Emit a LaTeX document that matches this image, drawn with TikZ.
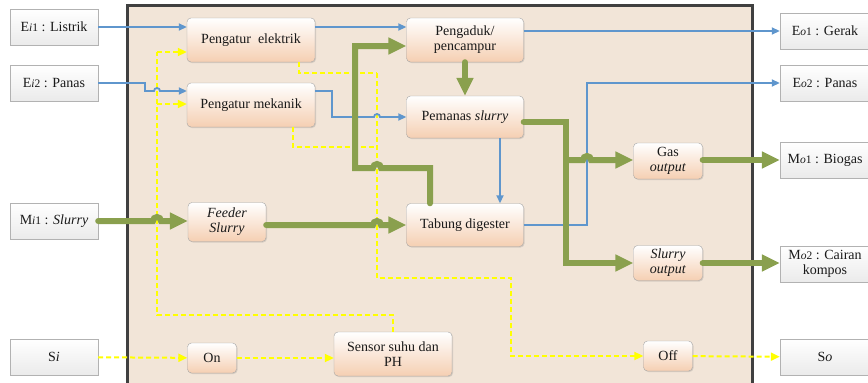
\documentclass[tikz,border=0pt]{standalone}
\usepackage{fontspec}
\setmainfont{Liberation Serif}
\usepackage{tikz}
\usetikzlibrary{arrows.meta,shadows}
\definecolor{flowblue}{RGB}{95,150,205}
\definecolor{flowgreen}{RGB}{138,160,78}
\definecolor{sysfill}{RGB}{242,229,216}
\definecolor{peach}{RGB}{245,207,178}
\definecolor{signalyellow}{RGB}{255,255,0}
\newcommand{\idx}[1]{{\fontsize{11.5}{13}\selectfont #1}}
\tikzset{
  proc/.style={draw=black!35, rounded corners=4pt, top color=white, bottom color=peach,
    drop shadow={opacity=0.25, shadow xshift=1pt, shadow yshift=-1pt},
    align=center, inner sep=1pt, text=black!90},
  io/.style={draw=black!30, top color=white, bottom color=black!8,
    drop shadow={opacity=0.2, shadow xshift=1pt, shadow yshift=-1pt},
    minimum width=88pt, minimum height=36pt, align=center, text=black!90},
  bluearrow/.style={draw=flowblue, line width=1.8pt, -{Triangle[length=8pt,width=7pt]}},
  greenarrow/.style={draw=flowgreen, line width=6pt, line cap=round, -{Triangle[length=18pt,width=16pt]}},
  signal/.style={draw=signalyellow, line width=2pt, dash pattern=on 5pt off 3pt, -{Triangle[length=9pt,width=8pt]}},
  signalline/.style={draw=signalyellow, line width=2pt, dash pattern=on 5pt off 3pt}
}

\begin{document}
\begin{tikzpicture}[x=1pt, y=-1pt, font=\rmfamily\fontsize{14}{15}\selectfont]
 \useasboundingbox (0,0) rectangle (868,383);
 \draw[line width=3pt, draw=black!75, fill=sysfill] (127,5) rectangle (752,400);

 \node[io] (ei1) at (54,27)  {E\idx{\textit{i}1} : Listrik};
 \node[io] (ei2) at (54,83)  {E\idx{\textit{i}2} : Panas};
 \node[io] (mi1) at (54,221) {M\idx{\textit{i}1} : \textit{Slurry}};
 \node[io] (si)  at (54,357) {S\textit{i}};

 \node[io, minimum width=90pt] (eo1) at (825,31)  {E\idx{\textit{o}1} : Gerak};
 \node[io, minimum width=90pt] (eo2) at (825,83)  {E\idx{\textit{o}2} : Panas};
 \node[io, minimum width=90pt] (mo1) at (825,160) {M\idx{\textit{o}1} : Biogas};
 \node[io, minimum width=90pt] (mo2) at (825,264) {M\idx{\textit{o}2} : Cairan\\kompos};
 \node[io, minimum width=90pt] (so)  at (825,357) {S\textit{o}};

 \node[proc, minimum width=128pt, minimum height=44pt] (pel)    at (251,40)  {Pengatur~ elektrik};
 \node[proc, minimum width=128pt, minimum height=44pt] (pmek)   at (251,105) {Pengatur mekanik};
 \node[proc, minimum width=117pt, minimum height=44pt] (aduk)   at (465,40)  {Pengaduk/\\pencampur};
 \node[proc, minimum width=117pt, minimum height=42pt] (panas)  at (465,117) {Pemanas \textit{slurry}};
 \node[proc, minimum width=117pt, minimum height=43pt] (tabung) at (465,225) {Tabung digester};
 \node[proc, minimum width=78pt,  minimum height=39pt] (feeder) at (227,222) {\textit{Feeder}\\\textit{Slurry}};
 \node[proc, minimum width=69pt,  minimum height=36pt] (gas)    at (668,161) {Gas\\\textit{output}};
 \node[proc, minimum width=69pt,  minimum height=35pt] (slout)  at (668,263) {\textit{Slurry}\\\textit{output}};
 \node[proc, minimum width=49pt,  minimum height=30pt] (on)     at (212,358) {On};
 \node[proc, minimum width=118pt, minimum height=44pt] (sensor) at (393,354) {Sensor suhu dan\\PH};
 \node[proc, minimum width=49pt,  minimum height=30pt] (off)    at (668,356) {Off};

 \draw[signal] (si) -- (on);
 \draw[signal] (on) -- (sensor.west |- on);
 \draw[signalline] (sensor.north) -- (393,315) -- (157,315) -- (157,52);
 \draw[signal] (157,52) -- (pel.west |- 0,52);
 \draw[signal] (157,104) -- (pmek.west |- 0,104);
 \draw[signalline] (pel.south -| 299,0) -- (299,73) -- (377,73);
 \draw[signalline] (pmek.south -| 293,0) -- (293,147) -- (377,147);
 \draw[signal] (377,73) -- (377,278) -- (511,278) -- (511,356) -- (off.west);
 \draw[signal] (off) -- (so);

 \draw[bluearrow] (ei1) -- (pel.west |- ei1);
 \draw[bluearrow] (ei2.east) -- (145,83) -- (145,91) -- (154,91) arc (180:360:3) -- (pmek.west |- 0,91);
 \draw[bluearrow] (pel.east |- 0,27) -- (aduk.west |- 0,27);
 \draw[bluearrow] (pmek.east |- 0,91) -- (332,91) -- (332,117) -- (374,117) arc (180:360:3) -- (panas.west);
 \draw[bluearrow] (aduk.east |- eo1) -- (eo1);
 \draw[bluearrow] (panas.south -| 500,0) -- (tabung.north -| 500,0);
 \draw[bluearrow] (tabung.east) -- (587,225) -- (587,83) -- (eo2);

 \draw[greenarrow] (mi1) -- (153,221) arc (180:360:4) -- (feeder.west |- mi1);
 \draw[greenarrow] (feeder.east |- tabung) -- (373,225) arc (180:360:4) -- (tabung);
 \draw[greenarrow] (tabung.north -| 430,0) -- (430,168) -- (381,168) arc (0:-180:4) -- (355,168) -- (355,46) -- (aduk.west |- 0,46);
 \draw[greenarrow] (aduk) -- (panas);
 \draw[greenarrow] (panas.east |- 0,122) -- (566,122) -- (566,263) -- (slout);
 \coordinate (split) at (566,160);
 \draw[greenarrow] (split) -- (583,160) arc (180:360:4) -- (gas.west |- split);
 \draw[greenarrow] (gas.east |- split) -- (mo1.west |- split);
 \draw[greenarrow] (slout) -- (mo2.west |- slout);
\end{tikzpicture}
\end{document}
